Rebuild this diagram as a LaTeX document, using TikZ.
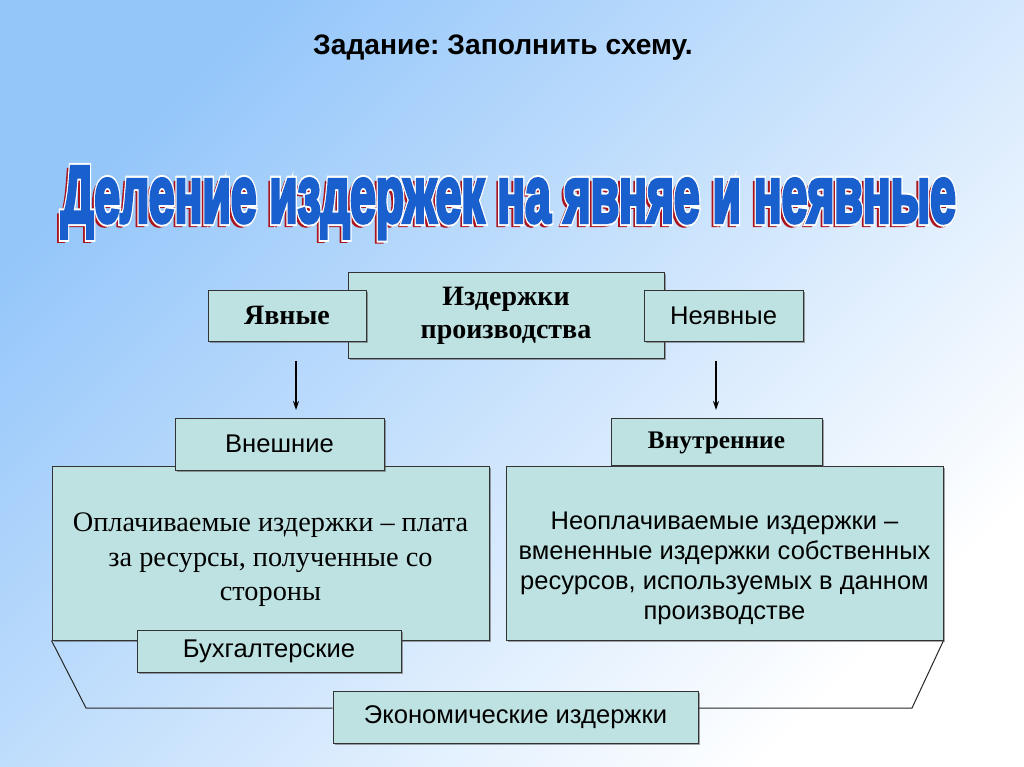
\documentclass[tikz,border=0pt]{standalone}
\usepackage{fontspec}
\setmainfont{Liberation Serif}
\setsansfont{Liberation Sans}
\newfontface\ttlfontB[FakeBold=5]{Liberation Sans Bold}
\newfontface\ttlfontW[FakeBold=10]{Liberation Sans Bold}
\frenchspacing
\usetikzlibrary{arrows.meta,shadows}
\definecolor{boxfill}{RGB}{190,226,226}
\definecolor{bgblue}{RGB}{148,198,250}
\definecolor{ttlblue}{RGB}{25,95,205}
\definecolor{ttlred}{RGB}{170,20,30}
\newcommand{\ttltext}[1]{\resizebox{908pt}{55pt}{\fontsize{45}{50}#1 Деление издержек на явняе и неявные}}
\begin{document}
\begin{tikzpicture}[x=1pt,y=-1pt,
  box/.style={draw=black!80, line width=1pt, fill=boxfill, inner sep=0pt, align=center,
    drop shadow={shadow xshift=1.5pt, shadow yshift=-1.5pt, opacity=0.5, fill=black!70}},
  sanslbl/.style={font=\fontsize{25.6}{30}\selectfont\sffamily},
  seriflbl/.style={font=\fontsize{28}{33}\selectfont\bfseries},
  plain/.style={inner sep=0pt, align=center},
  ttlpart/.style={anchor=base, inner sep=0pt},
  arr/.style={line width=1.2pt, -{Stealth[length=9pt,width=6pt]}},
  bracket/.style={line width=1pt, draw=black!85}]
\shade[top color=bgblue, bottom color=white, shading angle=45] (0,0) rectangle (1024,767);
\useasboundingbox (0,0) rectangle (1024,767);
% heading
\node[font=\fontsize{28.2}{32}\selectfont\sffamily\bfseries, text=black] (task) at (503,48) {Задание: Заполнить схему.};
% big title: red shadow, white outline, blue letters
\node[ttlpart, text=ttlred] (ttlr) at (499,225) {\ttltext{\ttlfontB}};
\node[ttlpart, text=white] (ttlw) at (502,222) {\ttltext{\ttlfontW}};
\node[ttlpart, text=ttlblue] (ttlb) at (502,222) {\ttltext{\ttlfontB}};
% top row
\node[box, minimum width=316pt, minimum height=86pt] (central) at (506,315) {};
\node[plain, seriflbl] (centraltxt) at (506,316) {Издержки\\производства};
\node[box, seriflbl, minimum width=158pt, minimum height=51pt] (yav) at (287,315.5) {Явные};
\node[box, sanslbl, minimum width=159pt, minimum height=51pt] (neyav) at (723.5,315.5) {Неявные};
% arrows
\coordinate (a1s) at (296,361);
\coordinate (a1e) at (296,410);
\coordinate (a2s) at (716,361);
\coordinate (a2e) at (716,410);
\draw[arr] (a1s) -- (a1e);
\draw[arr] (a2s) -- (a2e);
% left block
\node[box, minimum width=437pt, minimum height=174pt] (leftbig) at (270.5,553) {};
\node[plain, font=\fontsize{28.3}{34.5}\selectfont] (lefttxt) at (270.5,560) {Оплачиваемые издержки -- плата\\за ресурсы, полученные со\\стороны};
\node[box, sanslbl, minimum width=209pt, minimum height=52pt] (vnesh) at (279.5,444) {Внешние};
\node[box, sanslbl, minimum width=264pt, minimum height=42pt] (buh) at (269,651) {Бухгалтерские};
% right block
\node[box, minimum width=437pt, minimum height=174pt] (rightbig) at (724.5,553) {};
\node[plain, font=\fontsize{25.5}{30}\selectfont\sffamily] (righttxt) at (724.5,568) {Неоплачиваемые издержки --\\вмененные издержки собственных\\ресурсов, используемых в данном\\производстве};
\node[box, minimum width=211pt, minimum height=47pt] (vnutr) at (716.5,441.5) {};
\node[plain, font=\fontsize{25.3}{29}\selectfont\bfseries] (vnutrtxt) at (716.5,443) {Внутренние};
% bracket and economic costs
\coordinate (bl) at (86,708);
\coordinate (br) at (912,708);
\node[box, sanslbl, minimum width=365pt, minimum height=52pt] (econ) at (515.5,717) {Экономические издержки};
\draw[bracket] (leftbig.south west) -- (bl) -- (bl -| econ.west);
\draw[bracket] (rightbig.south east) -- (br) -- (br -| econ.east);
\end{tikzpicture}
\end{document}
